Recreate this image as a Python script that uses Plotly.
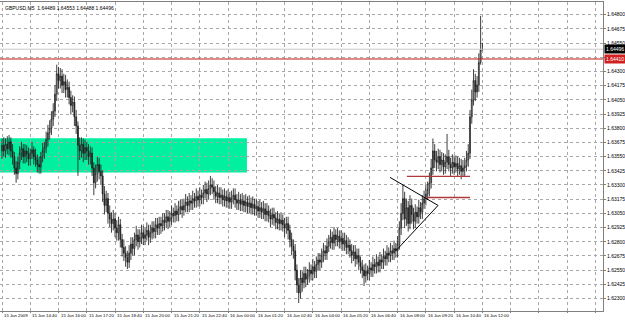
import plotly.graph_objects as go
import pandas as pd

# ---------------- data (GBPUSD, M5) ----------------
start_time = "2009-06-15 13:20"

opens = [1.6360,1.6365,1.6360,1.6366,1.6362,1.6368,1.6360,1.6355,1.6345,1.6340,
 1.6350,1.6358,1.6362,1.6355,1.6360,1.6357,1.6353,1.6358,1.6361,1.6355,
 1.6352,1.6348,1.6346,1.6355,1.6360,1.6363,1.6370,1.6376,1.6380,1.6388,
 1.6395,1.6410,1.6428,1.6422,1.6426,1.6418,1.6421,1.6414,1.6416,1.6407,
 1.6400,1.6403,1.6390,1.6382,1.6365,1.6360,1.6366,1.6358,1.6363,1.6360,
 1.6355,1.6358,1.6345,1.6332,1.6340,1.6348,1.6342,1.6338,1.6322,1.6312,
 1.6318,1.6305,1.6300,1.6296,1.6300,1.6292,1.6288,1.6295,1.6282,1.6275,
 1.6270,1.6266,1.6262,1.6270,1.6278,1.6274,1.6282,1.6286,1.6280,1.6284,
 1.6288,1.6283,1.6286,1.6290,1.6284,1.6288,1.6292,1.6289,1.6295,1.6292,
 1.6296,1.6294,1.6299,1.6297,1.6302,1.6298,1.6301,1.6305,1.6303,1.6307,
 1.6304,1.6309,1.6311,1.6308,1.6312,1.6315,1.6312,1.6316,1.6314,1.6318,
 1.6316,1.6320,1.6317,1.6321,1.6319,1.6323,1.6326,1.6322,1.6327,1.6330,
 1.6328,1.6324,1.6320,1.6323,1.6319,1.6321,1.6317,1.6320,1.6316,1.6319,
 1.6315,1.6318,1.6321,1.6317,1.6314,1.6317,1.6313,1.6316,1.6312,1.6315,
 1.6311,1.6314,1.6310,1.6313,1.6309,1.6311,1.6307,1.6310,1.6306,1.6309,
 1.6304,1.6307,1.6303,1.6300,1.6304,1.6301,1.6297,1.6300,1.6296,1.6299,
 1.6295,1.6292,1.6296,1.6290,1.6282,1.6276,1.6272,1.6255,1.6242,1.6235,
 1.6248,1.6244,1.6252,1.6247,1.6250,1.6255,1.6252,1.6258,1.6254,1.6260,
 1.6264,1.6262,1.6268,1.6272,1.6270,1.6276,1.6280,1.6284,1.6279,1.6286,
 1.6282,1.6285,1.6280,1.6283,1.6278,1.6281,1.6275,1.6277,1.6272,1.6268,
 1.6271,1.6265,1.6268,1.6262,1.6258,1.6255,1.6250,1.6254,1.6252,1.6257,
 1.6255,1.6260,1.6258,1.6262,1.6259,1.6264,1.6262,1.6267,1.6265,1.6270,
 1.6268,1.6272,1.6270,1.6274,1.6272,1.6278,1.6292,1.6305,1.6318,1.6300,
 1.6310,1.6296,1.6312,1.6304,1.6298,1.6306,1.6302,1.6310,1.6306,1.6314,
 1.6318,1.6322,1.6326,1.6332,1.6345,1.6360,1.6352,1.6350,1.6355,1.6348,
 1.6352,1.6346,1.6350,1.6355,1.6348,1.6345,1.6350,1.6346,1.6349,1.6344,
 1.6347,1.6342,1.6345,1.6347,1.6352,1.6358,1.6390,1.6405,1.6422,1.6412,
 1.6418,1.6438,1.64489]

closes = [1.6365,1.6360,1.6366,1.6362,1.6368,1.6360,1.6355,1.6345,1.6340,1.6350,
 1.6358,1.6362,1.6355,1.6360,1.6357,1.6353,1.6358,1.6361,1.6355,1.6352,
 1.6348,1.6346,1.6355,1.6360,1.6363,1.6370,1.6376,1.6380,1.6388,1.6395,
 1.6410,1.6428,1.6422,1.6426,1.6418,1.6421,1.6414,1.6416,1.6407,1.6400,
 1.6403,1.6390,1.6382,1.6365,1.6360,1.6366,1.6358,1.6363,1.6360,1.6355,
 1.6358,1.6345,1.6332,1.6340,1.6348,1.6342,1.6338,1.6322,1.6312,1.6318,
 1.6305,1.6300,1.6296,1.6300,1.6292,1.6288,1.6295,1.6282,1.6275,1.6270,
 1.6266,1.6262,1.6270,1.6278,1.6274,1.6282,1.6286,1.6280,1.6284,1.6288,
 1.6283,1.6286,1.6290,1.6284,1.6288,1.6292,1.6289,1.6295,1.6292,1.6296,
 1.6294,1.6299,1.6297,1.6302,1.6298,1.6301,1.6305,1.6303,1.6307,1.6304,
 1.6309,1.6311,1.6308,1.6312,1.6315,1.6312,1.6316,1.6314,1.6318,1.6316,
 1.6320,1.6317,1.6321,1.6319,1.6323,1.6326,1.6322,1.6327,1.6330,1.6328,
 1.6324,1.6320,1.6323,1.6319,1.6321,1.6317,1.6320,1.6316,1.6319,1.6315,
 1.6318,1.6321,1.6317,1.6314,1.6317,1.6313,1.6316,1.6312,1.6315,1.6311,
 1.6314,1.6310,1.6313,1.6309,1.6311,1.6307,1.6310,1.6306,1.6309,1.6304,
 1.6307,1.6303,1.6300,1.6304,1.6301,1.6297,1.6300,1.6296,1.6299,1.6295,
 1.6292,1.6296,1.6290,1.6282,1.6276,1.6272,1.6255,1.6242,1.6235,1.6248,
 1.6244,1.6252,1.6247,1.6250,1.6255,1.6252,1.6258,1.6254,1.6260,1.6264,
 1.6262,1.6268,1.6272,1.6270,1.6276,1.6280,1.6284,1.6279,1.6286,1.6282,
 1.6285,1.6280,1.6283,1.6278,1.6281,1.6275,1.6277,1.6272,1.6268,1.6271,
 1.6265,1.6268,1.6262,1.6258,1.6255,1.6250,1.6254,1.6252,1.6257,1.6255,
 1.6260,1.6258,1.6262,1.6259,1.6264,1.6262,1.6267,1.6265,1.6270,1.6268,
 1.6272,1.6270,1.6274,1.6272,1.6278,1.6292,1.6305,1.6318,1.6300,1.6310,
 1.6296,1.6312,1.6304,1.6298,1.6306,1.6302,1.6310,1.6306,1.6314,1.6318,
 1.6322,1.6326,1.6332,1.6345,1.6360,1.6352,1.6350,1.6355,1.6348,1.6352,
 1.6346,1.6350,1.6355,1.6348,1.6345,1.6350,1.6346,1.6349,1.6344,1.6347,
 1.6342,1.6345,1.6347,1.6352,1.6358,1.6390,1.6405,1.6422,1.6412,1.6418,
 1.6438,1.64489,1.64496]

highs = [1.6371,1.6372,1.6371,1.6373,1.6374,1.6372,1.6366,1.6359,1.6351,1.6355,
 1.6364,1.6368,1.6366,1.6366,1.6365,1.6363,1.6362,1.6368,1.6364,1.6362,
 1.6357,1.6355,1.6359,1.6367,1.6368,1.6377,1.6383,1.6387,1.6395,1.6402,
 1.6418,1.6436,1.6434,1.6433,1.6432,1.6428,1.6427,1.6423,1.6421,1.6413,
 1.6409,1.6408,1.6396,1.6386,1.6372,1.6372,1.6371,1.6370,1.6368,1.6366,
 1.6364,1.6363,1.6350,1.6348,1.6355,1.6354,1.6348,1.6343,1.6329,1.6325,
 1.6323,1.6312,1.6306,1.6308,1.6305,1.6299,1.6302,1.6300,1.6287,1.6282,
 1.6276,1.6272,1.6277,1.6284,1.6284,1.6288,1.6294,1.6291,1.6291,1.6295,
 1.6294,1.6292,1.6297,1.6295,1.6295,1.6298,1.6298,1.6301,1.6301,1.6302,
 1.6302,1.6305,1.6305,1.6308,1.6308,1.6307,1.6312,1.6310,1.6314,1.6312,
 1.6316,1.6317,1.6317,1.6318,1.6322,1.6320,1.6323,1.6321,1.6325,1.6323,
 1.6327,1.6325,1.6328,1.6326,1.6330,1.6333,1.6332,1.6334,1.6338,1.6336,
 1.6334,1.6329,1.6330,1.6328,1.6328,1.6326,1.6327,1.6325,1.6326,1.6324,
 1.6325,1.6327,1.6327,1.6322,1.6324,1.6322,1.6323,1.6321,1.6322,1.6320,
 1.6321,1.6319,1.6320,1.6318,1.6318,1.6316,1.6317,1.6315,1.6316,1.6314,
 1.6314,1.6312,1.6309,1.6310,1.6310,1.6306,1.6307,1.6305,1.6306,1.6304,
 1.6301,1.6302,1.6302,1.6295,1.6288,1.6282,1.6278,1.6260,1.6248,1.6255,
 1.6254,1.6258,1.6258,1.6256,1.6262,1.6260,1.6265,1.6263,1.6267,1.6270,
 1.6270,1.6274,1.6279,1.6277,1.6283,1.6286,1.6291,1.6289,1.6293,1.6291,
 1.6292,1.6290,1.6290,1.6288,1.6288,1.6286,1.6284,1.6282,1.6278,1.6277,
 1.6277,1.6274,1.6274,1.6267,1.6264,1.6260,1.6261,1.6259,1.6264,1.6262,
 1.6267,1.6265,1.6269,1.6267,1.6271,1.6269,1.6274,1.6272,1.6277,1.6275,
 1.6279,1.6277,1.6281,1.6279,1.6285,1.6298,1.6314,1.6330,1.6324,1.6318,
 1.6316,1.6321,1.6318,1.6310,1.6313,1.6311,1.6317,1.6315,1.6321,1.6325,
 1.6330,1.6333,1.6341,1.6353,1.6371,1.6366,1.6360,1.6362,1.6361,1.6359,
 1.6358,1.6357,1.6375,1.6361,1.6354,1.6357,1.6356,1.6356,1.6355,1.6354,
 1.6353,1.6352,1.6354,1.6360,1.6366,1.6396,1.6414,1.6432,1.6428,1.6426,
 1.6446,1.6479,1.64553]

lows = [1.6353,1.6355,1.6354,1.6357,1.6356,1.6354,1.6348,1.6339,1.6332,1.6335,
 1.6344,1.6352,1.6349,1.6349,1.6350,1.6347,1.6347,1.6353,1.6348,1.6346,
 1.6341,1.6340,1.6340,1.6350,1.6353,1.6358,1.6364,1.6370,1.6374,1.6382,
 1.6390,1.6404,1.6415,1.6415,1.6411,1.6411,1.6407,1.6407,1.6401,1.6392,
 1.6394,1.6382,1.6375,1.6338,1.6352,1.6354,1.6350,1.6352,1.6352,1.6348,
 1.6348,1.6338,1.6321,1.6327,1.6333,1.6335,1.6330,1.6315,1.6304,1.6306,
 1.6296,1.6293,1.6288,1.6290,1.6284,1.6281,1.6281,1.6275,1.6267,1.6263,
 1.6258,1.6256,1.6257,1.6264,1.6268,1.6268,1.6276,1.6273,1.6275,1.6278,
 1.6277,1.6277,1.6281,1.6277,1.6279,1.6282,1.6283,1.6283,1.6286,1.6286,
 1.6287,1.6289,1.6290,1.6292,1.6291,1.6293,1.6295,1.6297,1.6297,1.6298,
 1.6298,1.6304,1.6301,1.6303,1.6306,1.6306,1.6306,1.6308,1.6308,1.6310,
 1.6310,1.6311,1.6311,1.6313,1.6313,1.6318,1.6315,1.6317,1.6321,1.6322,
 1.6317,1.6314,1.6314,1.6313,1.6313,1.6311,1.6311,1.6310,1.6310,1.6309,
 1.6309,1.6313,1.6310,1.6308,1.6308,1.6307,1.6307,1.6306,1.6306,1.6305,
 1.6305,1.6304,1.6304,1.6303,1.6303,1.6301,1.6301,1.6300,1.6300,1.6298,
 1.6298,1.6297,1.6293,1.6295,1.6294,1.6291,1.6291,1.6290,1.6290,1.6289,
 1.6284,1.6287,1.6282,1.6275,1.6268,1.6265,1.6246,1.6235,1.6226,1.6230,
 1.6236,1.6239,1.6240,1.6242,1.6244,1.6246,1.6246,1.6248,1.6248,1.6255,
 1.6255,1.6257,1.6262,1.6264,1.6264,1.6271,1.6274,1.6273,1.6273,1.6276,
 1.6276,1.6274,1.6274,1.6272,1.6272,1.6269,1.6269,1.6266,1.6261,1.6263,
 1.6258,1.6260,1.6255,1.6252,1.6248,1.6241,1.6244,1.6246,1.6246,1.6249,
 1.6249,1.6252,1.6252,1.6253,1.6253,1.6256,1.6256,1.6259,1.6259,1.6262,
 1.6262,1.6264,1.6264,1.6266,1.6266,1.6273,1.6286,1.6299,1.6292,1.6294,
 1.6289,1.6291,1.6296,1.6291,1.6292,1.6296,1.6296,1.6300,1.6300,1.6309,
 1.6312,1.6317,1.6320,1.6327,1.6339,1.6345,1.6342,1.6344,1.6341,1.6342,
 1.6339,1.6340,1.6344,1.6342,1.6338,1.6340,1.6339,1.6341,1.6337,1.6339,
 1.6335,1.6337,1.6338,1.6342,1.6346,1.6353,1.6384,1.6400,1.6404,1.6407,
 1.6412,1.6436,1.64488]

price_ticks = [1.64800,1.64675,1.64550,1.64425,1.64300,1.64175,1.64050,1.63925,
               1.63800,1.63675,1.63550,1.63425,1.63300,1.63175,1.63050,1.62925,
               1.62800,1.62675,1.62550,1.62425,1.62300,1.62175]

bid_price = 1.64496
red_level = 1.64410
zone_low, zone_high = 1.63410, 1.63712
resist_upper = 1.63376
resist_lower = 1.63190
title_text = "GBPUSD,M5  1.64489 1.64553 1.64488 1.64496"

# ---------------- figure ----------------
n = len(closes)
times = pd.date_range(start_time, periods=n, freq="5min")
idx = list(range(n))

tickvals = list(range(0, 341, 16))
time_labels = []
for k in tickvals:
    if k == 0:
        time_labels.append((k, times[0].strftime("%d %b %Y")))
    elif k < n:
        time_labels.append((k, times[k].strftime("%d %b %H:%M")))

# price labels hidden where the price boxes sit (as MT4 does)
ytext = ["" if abs(v - red_level) < 0.0004 else "%.5f" % v for v in price_ticks]

fig = go.Figure()
fig.add_trace(go.Candlestick(
    x=idx, open=opens, high=highs, low=lows, close=closes,
    increasing=dict(line=dict(color="#1e1e1e", width=0.85), fillcolor="#ffffff"),
    decreasing=dict(line=dict(color="#1e1e1e", width=0.85), fillcolor="#1e1e1e"),
    whiskerwidth=0, hoverinfo="skip", showlegend=False))

xr = [-1.13, 340.3]
shapes = [
    dict(type="rect", xref="x", yref="y", x0=-2, x1=138.7, y0=zone_low, y1=zone_high,
         fillcolor="#00F0A0", line=dict(width=0), layer="below"),
    dict(type="line", xref="paper", yref="y", x0=0, x1=1, y0=bid_price, y1=bid_price,
         line=dict(color="#C8C8C8", width=1)),
    dict(type="line", xref="paper", yref="y", x0=0, x1=1, y0=red_level, y1=red_level,
         line=dict(color="#C01818", width=1)),
    dict(type="line", xref="x", yref="y", x0=229.3, x1=265, y0=resist_upper, y1=resist_upper,
         line=dict(color="#B03838", width=1.3)),
    dict(type="line", xref="x", yref="y", x0=240.7, x1=265, y0=resist_lower, y1=resist_lower,
         line=dict(color="#B03838", width=1.3)),
    dict(type="line", xref="x", yref="y", x0=219.7, x1=246.9, y0=1.63367, y1=1.63120,
         line=dict(color="#000000", width=1)),
    dict(type="line", xref="x", yref="y", x0=223.1, x1=246.9, y0=1.62722, y1=1.63120,
         line=dict(color="#000000", width=1)),
]

annotations = [
    dict(text=title_text, xref="paper", yref="paper", x=0, y=1, xanchor="left", yanchor="top",
         xshift=3, yshift=-1, showarrow=False, font=dict(size=5, color="#000000",
         family="Liberation Sans")),
    dict(text="%.5f" % bid_price, xref="paper", yref="y", x=1, y=bid_price, xanchor="left",
         yanchor="middle", xshift=1, showarrow=False, bgcolor="#000000", borderpad=1,
         font=dict(size=5, color="#ffffff", family="Liberation Sans")),
    dict(text="%.5f" % red_level, xref="paper", yref="y", x=1, y=red_level, xanchor="left",
         yanchor="middle", xshift=1, showarrow=False, bgcolor="#D02020", borderpad=1,
         font=dict(size=5, color="#ffffff", family="Liberation Sans")),
]
# time-axis labels, text starting at their grid line (MetaTrader style)
for k, lab in time_labels:
    annotations.append(dict(text=lab, xref="x", yref="paper", x=k, y=0, xanchor="left",
                            yanchor="top", yshift=-1, xshift=1, showarrow=False, borderpad=0,
                            font=dict(size=4.3, color="#000000", family="Liberation Sans")))

fig.update_layout(
    width=625, height=320,
    margin=dict(l=0, r=22, t=2, b=9),
    paper_bgcolor="#ffffff", plot_bgcolor="#ffffff",
    shapes=shapes, annotations=annotations,
    font=dict(family="Liberation Sans", size=5, color="#000000"),
    xaxis=dict(range=xr, tickmode="array", tickvals=tickvals, showticklabels=False,
               showgrid=True, gridcolor="#A8A8A8", griddash="dot", gridwidth=1,
               zeroline=False, showline=True, linecolor="#808080", linewidth=1, mirror=True,
               ticks="outside", ticklen=1, tickcolor="#808080",
               rangeslider=dict(visible=False), automargin=False),
    yaxis=dict(range=[1.62190, 1.64912], side="right", tickmode="array",
               tickvals=price_ticks, ticktext=ytext,
               showgrid=True, gridcolor="#A8A8A8", griddash="dot", gridwidth=1,
               zeroline=False, showline=True, linecolor="#808080", linewidth=1, mirror=True,
               ticks="outside", ticklen=2, tickcolor="#808080",
               tickfont=dict(size=5), automargin=False),
)

fig.write_html("out.html")
